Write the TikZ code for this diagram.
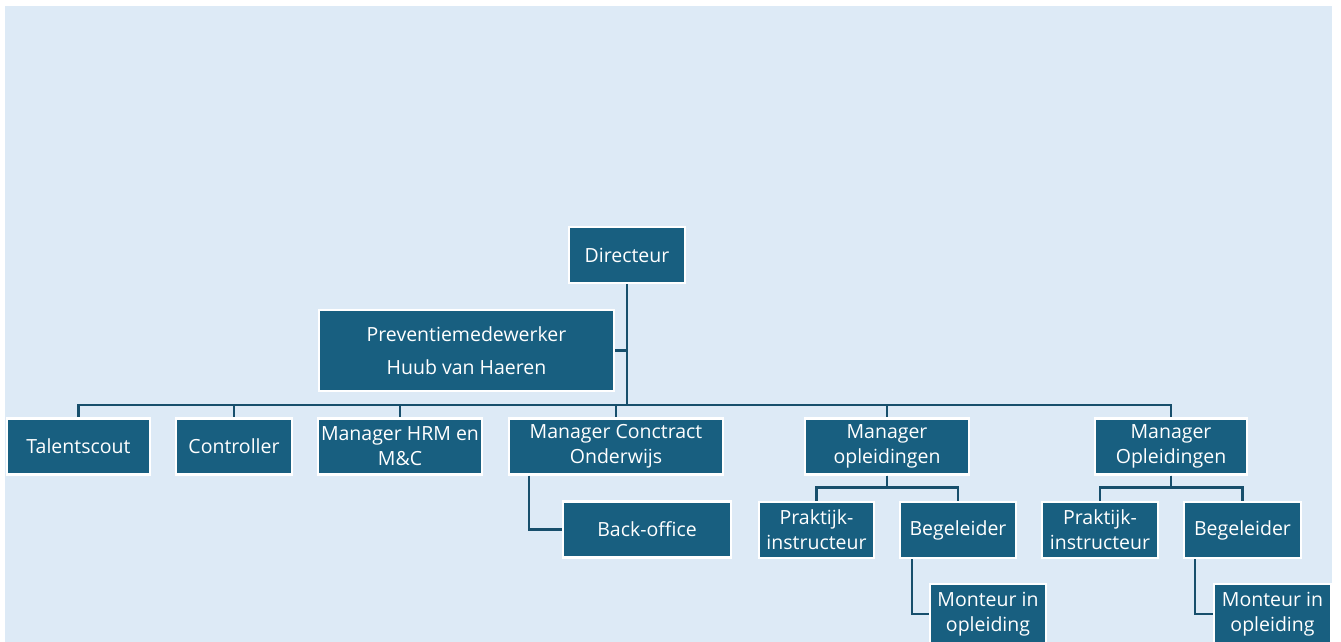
\documentclass[tikz,border=0pt]{standalone}
\usepackage{fontspec}
\setmainfont{Open Sans}
\usepackage{tikz}
\usetikzlibrary{positioning}
\usepackage{xcolor}
\definecolor{pagebg}{HTML}{DDEAF6}
\definecolor{boxfill}{HTML}{185F80}
\definecolor{linkcol}{HTML}{174F6C}

\tikzset{
  orgbox/.style={draw=white, line width=2.2pt, fill=boxfill, text=white, inner sep=0pt,
    align=center, minimum height=56pt, font=\fontsize{19.5}{25}\selectfont},
  link/.style={draw=linkcol, line width=2.6pt}
}

\begin{document}
\begin{tikzpicture}[x=1pt, y=-1pt]
    \useasboundingbox (0,0) rectangle (1341,641);
    \fill[pagebg] (5,6) rectangle (1332,650);

    \node[orgbox, minimum width=116pt] (dir) at (627,255) {Directeur};
    \node[orgbox, minimum width=295pt, minimum height=81pt] (prev) at (466.5,350.5) {Preventiemedewerker\\[8pt]Huub van Haeren};

    \node[orgbox, minimum width=143pt] (talent) at (78.5,446.5) {Talentscout};
    \node[orgbox, minimum width=116pt] (ctrl) at (234,446.5) {Controller};
    \node[orgbox, minimum width=164pt] (hrm) at (400,446.5) {Manager HRM en\\M\&C};
    \node[orgbox, minimum width=214pt] (conc) at (616,446.5) {Manager Conctract\\Onderwijs};
    \node[orgbox, minimum width=164pt] (mopl1) at (887,446.5) {Manager\\opleidingen};
    \node[orgbox, minimum width=152pt] (mopl2) at (1171,446.5) {Manager\\Opleidingen};

    \node[orgbox, minimum width=168pt] (back) at (647,529.5) {Back-office};
    \node[orgbox, minimum width=115pt] (prak1) at (816.5,530) {Praktijk-\\instructeur};
    \node[orgbox, minimum width=116pt] (beg1) at (958,530) {Begeleider};
    \node[orgbox, minimum width=116pt] (prak2) at (1100,530) {Praktijk-\\instructeur};
    \node[orgbox, minimum width=117pt] (beg2) at (1242.5,530) {Begeleider};

    \node[orgbox, minimum width=116pt, minimum height=60pt] (mont1) at (988,614) {Monteur in\\opleiding};
    \node[orgbox, minimum width=117pt, minimum height=60pt] (mont2) at (1272.5,614) {Monteur in\\opleiding};

    % directeur and staff
    \coordinate (bus) at (627,405);
    \draw[link] (dir.south) -- (bus);
    \draw[link] (prev.east) -- (prev.east -| bus);

    % managers
    \draw[link] (bus) -| (talent.north);
    \draw[link] (bus) -| (ctrl.north);
    \draw[link] (bus) -| (hrm.north);
    \draw[link] (bus) -| (conc.north);
    \draw[link] (bus) -| (mopl1.north);
    \draw[link] (bus) -| (mopl2.north);

    % teams
    \draw[link] ([xshift=21pt]conc.south west) |- (back.west);
    \draw[link] (mopl1.south) -- ++(0,12) -| (prak1.north);
    \draw[link] (mopl1.south) -- ++(0,12) -| (beg1.north);
    \draw[link] (mopl2.south) -- ++(0,12) -| (prak2.north);
    \draw[link] (mopl2.south) -- ++(0,12) -| (beg2.north);
    \draw[link] ([xshift=13pt]beg1.south west) |- (mont1.west);
    \draw[link] ([xshift=12pt]beg2.south west) |- (mont2.west);
\end{tikzpicture}
\end{document}
